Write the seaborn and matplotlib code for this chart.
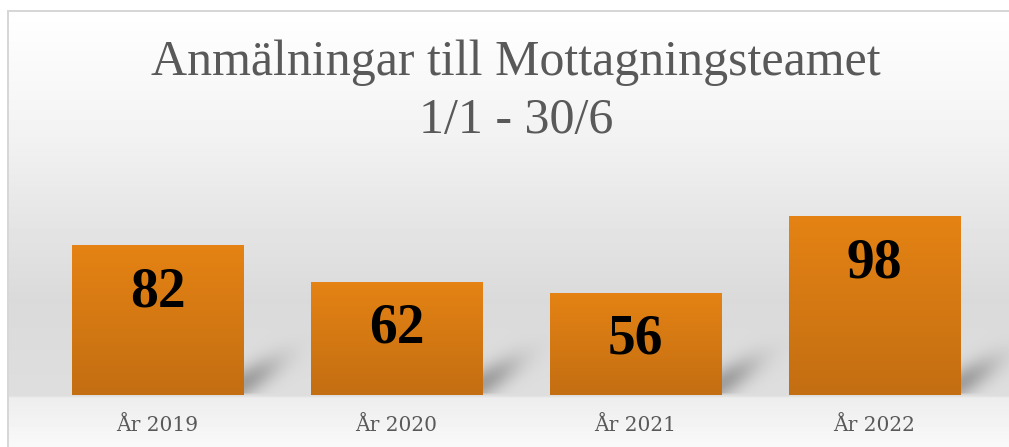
import numpy as np
import matplotlib
matplotlib.use("Agg")
import matplotlib.pyplot as plt
import seaborn as sns
import pandas as pd

# ---- data ----
categories = ["År 2019", "År 2020", "År 2021", "År 2022"]
values = [82, 62, 56, 98]
title_line1 = "Anmälningar till Mottagningsteamet"
title_line2 = "1/1 - 30/6"

W, H = 1009, 447
fig = plt.figure(figsize=(W / 100, H / 100), dpi=100)
fig.patch.set_facecolor("white")

ax = fig.add_axes([38 / W, 52 / H, 956 / W, 235 / H])
df = pd.DataFrame({"cat": categories, "val": values})
sns.barplot(data=df, x="cat", y="val", color="#D97A15", saturation=1,
            width=0.716, ax=ax, errorbar=None)

# gradient fill on bars
top_c = np.array([229, 131, 20]) / 255
bot_c = np.array([195, 110, 18]) / 255
t = np.linspace(0, 1, 256)[:, None, None]
grad = top_c[None, None, :] + (bot_c - top_c)[None, None, :] * t
for p in ax.patches:
    x0, y0, w, h = p.get_x(), p.get_y(), p.get_width(), p.get_height()
    im = ax.imshow(grad, extent=(x0, x0 + w, y0, y0 + h), aspect="auto",
                   origin="upper", zorder=p.get_zorder() + 0.1,
                   interpolation="bilinear")
    im.set_clip_path(p)

ax.set_xlim(-0.5, 3.5)
ax.set_ylim(0, 128.7)
for s in ax.spines.values():
    s.set_visible(False)
ax.set_yticks([])
ax.set_xlabel("")
ax.set_ylabel("")
ax.set_facecolor("none")
ax.set_xticks(range(len(categories)))
ax.set_xticklabels(categories, fontfamily="DejaVu Serif", fontsize=14.5,
                   color="#595959")
ax.tick_params(axis="x", length=0, pad=15)

for i, v in enumerate(values):
    ax.annotate(f"{v}", xy=(i, v), xytext=(0, -61), textcoords="offset pixels",
                ha="center", va="baseline", fontsize=40, fontweight="bold",
                family="Liberation Serif", color="black", zorder=5)

fig.text(516 / W, 1 - 75 / H, title_line1, ha="center", va="baseline",
         fontsize=36, family="Liberation Serif", color="#595959")
fig.text(516 / W, 1 - 133 / H, title_line2, ha="center", va="baseline",
         fontsize=36, family="Liberation Serif", color="#595959")

# ---- background panel with gradient and bar shadows ----
fig.canvas.draw()
base_px = H - ax.transData.transform((0, 0))[1]
rows = np.arange(H, dtype=float)
ys = [0, 11, 130, 200, 300, base_px, base_px + 2.5, H]
gs = [255, 255, 243, 232, 218, 222, 237, 249]
profile = np.interp(rows, ys, gs)
arr = np.repeat(profile[:, None], W, axis=1)

X, Y = np.meshgrid(np.arange(W, dtype=float), rows)
shade = np.zeros_like(arr)
for p in ax.patches:
    bb = p.get_window_extent()
    xr = bb.x1
    yb = H - bb.y0
    dx = X - xr
    dxp = np.clip(dx, 0, None)
    yc = yb - 12 - 0.55 * dxp
    wgt = np.exp(-((Y - yc) / 16) ** 2) * np.exp(-(dxp / 36) ** 2)
    wgt *= np.clip((yb - Y) / 3, 0, 1) * (dx > -40)
    shade = np.maximum(shade, wgt)
arr = arr * (1 - 0.28 * shade)

arr[:10, :] = 255
arr[:, :7] = 255
arr[10:12, 7:] = 215
arr[10:, 7:9] = 215

bg = fig.add_axes([0, 0, 1, 1], zorder=-1)
bg.imshow(arr, cmap="gray", vmin=0, vmax=255, aspect="auto",
          extent=(0, 1, 0, 1), interpolation="bilinear")
bg.set_xlim(0, 1)
bg.set_ylim(0, 1)
bg.axis("off")

fig.savefig("out.png", dpi=100)
